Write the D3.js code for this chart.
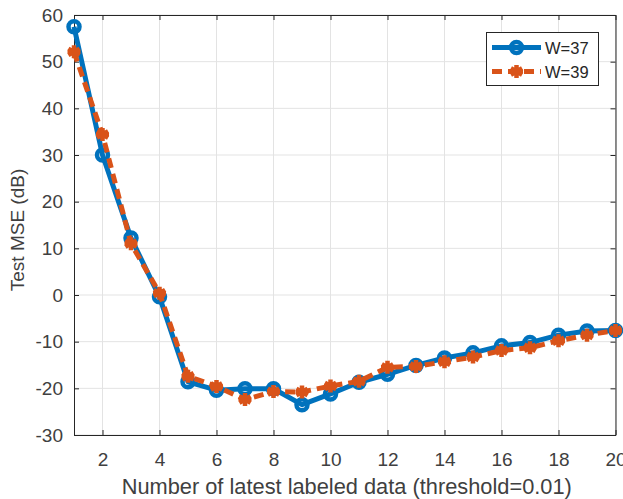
<!DOCTYPE html>
<html>
<head>
<meta charset="utf-8">
<script src="https://cdn.jsdelivr.net/npm/d3@7"></script>
<style>
  html, body { margin: 0; padding: 0; background: #fff; }
  svg { display: block; }
  text { font-family: "Liberation Sans", Arial, Helvetica, sans-serif; }
</style>
</head>
<body>
<svg id="chart" width="623" height="499"></svg>
<script>
// Number of latest labeled data used
const numLabeled = [1, 2, 3, 4, 5, 6, 7, 8, 9, 10, 11, 12, 13, 14, 15, 16, 17, 18, 19, 20];
// Test MSE (dB) for window size W=37
const mseW37 = [57.5, 30.0, 12.2, -0.4, -18.6, -20.4, -20.1, -20.1, -23.5, -21.2, -18.7, -17.0, -15.1, -13.5, -12.4, -10.9, -10.2, -8.6, -7.7, -7.6];
// Test MSE (dB) for window size W=39
const mseW39 = [52.1, 34.4, 11.0, 0.4, -17.4, -19.6, -22.4, -20.7, -20.8, -19.5, -18.5, -15.5, -15.3, -14.3, -13.3, -11.9, -11.3, -9.8, -8.6, -7.6];
const xTicks = [2, 4, 6, 8, 10, 12, 14, 16, 18, 20];
const yTicks = [-30, -20, -10, 0, 10, 20, 30, 40, 50, 60];
const seriesNames = ["W=37", "W=39"];

const svg = d3.select("#chart");
const m = { left: 74, right: 615.5, top: 15, bottom: 435 };

const x = d3.scaleLinear().domain([1, 20]).range([m.left, m.right]);
const y = d3.scaleLinear().domain([-30, 60]).range([m.bottom, m.top]);

const axisColor = "#262626";
const textColor = "#404040";
const blue = "#0072BD";
const orange = "#D95319";

// grid
const grid = svg.append("g");
grid.selectAll("line.vx").data(xTicks).join("line")
  .attr("x1", d => x(d)).attr("x2", d => x(d))
  .attr("y1", m.top).attr("y2", m.bottom)
  .attr("stroke", "#e3e3e3").attr("stroke-width", 1);
grid.selectAll("line.hy").data(yTicks).join("line")
  .attr("x1", m.left).attr("x2", m.right)
  .attr("y1", d => y(d)).attr("y2", d => y(d))
  .attr("stroke", "#e3e3e3").attr("stroke-width", 1);

// axes (box with inward ticks on all sides); plain hyphen for negatives
const tickLen = 5;
const fmt = d => String(d);
const bottomAxis = d3.axisBottom(x).tickValues(xTicks).tickFormat(fmt).tickSizeInner(-tickLen).tickSizeOuter(0).tickPadding(18);
const leftAxis = d3.axisLeft(y).tickValues(yTicks).tickFormat(fmt).tickSizeInner(-tickLen).tickSizeOuter(0).tickPadding(11);
const topAxis = d3.axisTop(x).tickValues(xTicks).tickSizeInner(-tickLen).tickSizeOuter(0).tickFormat("");
const rightAxis = d3.axisRight(y).tickValues(yTicks).tickSizeInner(-tickLen).tickSizeOuter(0).tickFormat("");

function styleAxis(g) {
  g.select(".domain").attr("stroke", axisColor).attr("stroke-width", 1);
  g.selectAll(".tick line").attr("stroke", axisColor).attr("stroke-width", 1);
  g.selectAll(".tick text").attr("fill", textColor).attr("font-size", 19)
    .attr("font-family", "'Liberation Sans', Arial, sans-serif");
}

svg.append("g").attr("transform", `translate(0,${m.bottom})`).call(bottomAxis).call(styleAxis);
svg.append("g").attr("transform", `translate(${m.left},0)`).call(leftAxis).call(styleAxis);
svg.append("g").attr("transform", `translate(0,${m.top})`).call(topAxis).call(styleAxis);
svg.append("g").attr("transform", `translate(${m.right},0)`).call(rightAxis).call(styleAxis);

// series
const line = d3.line().x((d, i) => x(numLabeled[i])).y(d => y(d));

function asterisk(s) {
  const a = s * Math.cos(Math.PI / 6), b = s * Math.sin(Math.PI / 6);
  return `M0,${-s}L0,${s}M${-a},${-b}L${a},${b}M${-a},${b}L${a},${-b}M${-s},0L${s},0`;
}

function drawBlue(g, pts) {
  g.append("path").datum(pts).attr("d", line)
    .attr("fill", "none").attr("stroke", blue).attr("stroke-width", 5)
    .attr("stroke-linejoin", "round");
  g.selectAll("circle").data(pts).join("circle")
    .attr("cx", (d, i) => x(numLabeled[i])).attr("cy", d => y(d))
    .attr("r", 5.5).attr("fill", "none").attr("stroke", blue).attr("stroke-width", 4.5);
}
function drawOrange(g, pts) {
  g.append("path").datum(pts).attr("d", line)
    .attr("fill", "none").attr("stroke", orange).attr("stroke-width", 5)
    .attr("stroke-dasharray", "10,6");
  g.selectAll("path.mk").data(pts).join("path").attr("class", "mk")
    .attr("transform", (d, i) => `translate(${x(numLabeled[i])},${y(d)})`)
    .attr("d", asterisk(6.5)).attr("fill", "none").attr("stroke", orange)
    .attr("stroke-width", 4.5);
}

const plot = svg.append("g");
drawBlue(plot.append("g"), mseW37);
drawOrange(plot.append("g"), mseW39);

// axis labels
svg.append("text")
  .attr("x", (m.left + m.right) / 2 + 2).attr("y", 494)
  .attr("text-anchor", "middle").attr("fill", textColor).attr("font-size", 21.8)
  .text("Number of latest labeled data (threshold=0.01)");
svg.append("text")
  .attr("transform", `translate(24,${(m.top + m.bottom) / 2 + 5}) rotate(-90)`)
  .attr("text-anchor", "middle").attr("fill", textColor).attr("font-size", 19)
  .text("Test MSE (dB)");

// legend
const lg = svg.append("g");
lg.append("rect").attr("x", 486.5).attr("y", 32.5).attr("width", 112).attr("height", 53)
  .attr("fill", "#fff").attr("stroke", axisColor).attr("stroke-width", 1);
const rows = [47.5, 71.5];
const lx1 = 492, lx2 = 541, lmid = 516.5;
// W=37
lg.append("line").attr("x1", lx1).attr("x2", lx2).attr("y1", rows[0]).attr("y2", rows[0])
  .attr("stroke", blue).attr("stroke-width", 5);
lg.append("circle").attr("cx", lmid).attr("cy", rows[0]).attr("r", 5.5)
  .attr("fill", "none").attr("stroke", blue).attr("stroke-width", 4.5);
// W=39
lg.append("line").attr("x1", lx1).attr("x2", lx2).attr("y1", rows[1]).attr("y2", rows[1])
  .attr("stroke", orange).attr("stroke-width", 5).attr("stroke-dasharray", "10,6");
lg.append("path").attr("transform", `translate(${lmid},${rows[1]})`).attr("d", asterisk(6.5))
  .attr("fill", "none").attr("stroke", orange).attr("stroke-width", 4.5);
lg.selectAll("text.lbl").data(seriesNames).join("text").attr("class", "lbl")
  .attr("x", 545).attr("y", (d, i) => rows[i] + 6)
  .attr("fill", "#262626").attr("font-size", 16.5).text(d => d);
</script>
</body>
</html>
